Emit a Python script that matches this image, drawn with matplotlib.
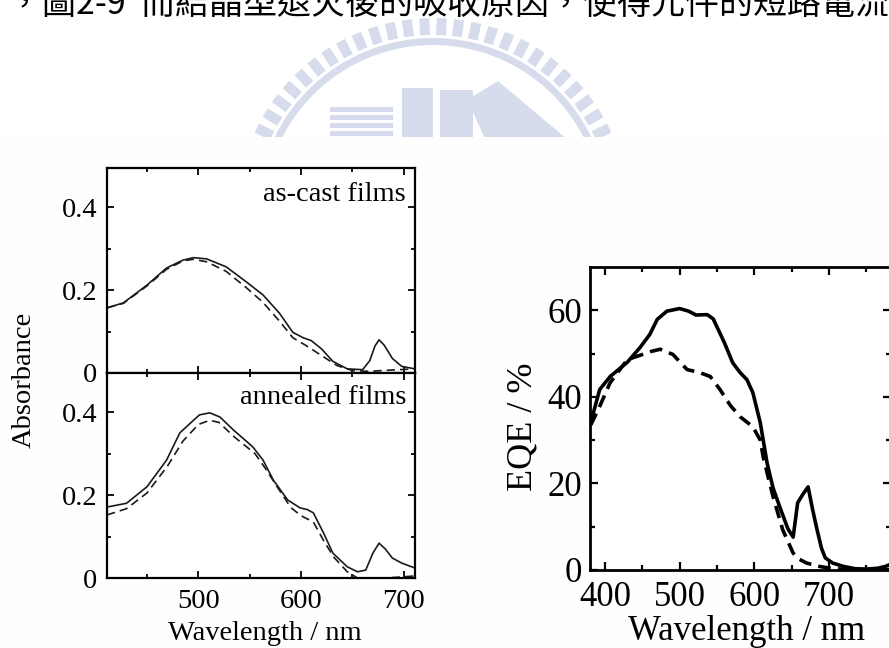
import numpy as np
import matplotlib.pyplot as plt
from matplotlib.patches import Polygon, Rectangle

# ---- absorbance spectra (as-cast films) ----
asc_wl = [411, 427, 450, 469, 485, 495, 508, 527, 547, 563, 579, 592, 602, 610,
          620, 631, 645, 660, 667, 672, 676, 681, 689, 698, 711]
asc_solid = [0.157, 0.169, 0.212, 0.253, 0.272, 0.278, 0.275, 0.256, 0.219, 0.188,
             0.144, 0.098, 0.085, 0.078, 0.058, 0.028, 0.010, 0.008, 0.030, 0.065,
             0.080, 0.067, 0.035, 0.016, 0.010]
asc_dash_wl = [411, 427, 450, 469, 485, 495, 508, 527, 547, 563, 579, 592, 605,
               620, 635, 650, 665, 680, 695, 711]
asc_dash = [0.157, 0.168, 0.210, 0.250, 0.270, 0.274, 0.268, 0.245, 0.205, 0.170,
            0.125, 0.085, 0.066, 0.042, 0.018, 0.006, 0.004, 0.006, 0.008, 0.010]

# ---- absorbance spectra (annealed films) ----
ann_wl = [411, 430, 450, 469, 482, 501, 511, 521, 534, 553, 563, 573, 587, 599,
          606, 612, 622, 631, 645, 655, 663, 670, 676, 682, 689, 698, 711]
ann_solid = [0.171, 0.180, 0.220, 0.284, 0.350, 0.393, 0.398, 0.388, 0.357, 0.316,
             0.284, 0.236, 0.188, 0.169, 0.165, 0.157, 0.108, 0.060, 0.027, 0.015,
             0.019, 0.060, 0.084, 0.070, 0.048, 0.036, 0.024]
ann_dash_wl = [411, 430, 450, 470, 485, 500, 511, 520, 535, 555, 565, 578, 590,
               600, 612, 622, 632, 645, 655, 665, 680, 695, 711]
ann_dash = [0.152, 0.167, 0.205, 0.270, 0.330, 0.370, 0.380, 0.375, 0.340, 0.300,
            0.265, 0.215, 0.170, 0.150, 0.135, 0.090, 0.050, 0.015, 0.000, -0.003,
            0.000, 0.002, 0.005]

# ---- EQE spectra ----
eqe_wl = [381, 384, 393, 407, 430, 447, 460, 470, 483, 500, 512, 522, 537, 545,
          560, 571, 581, 590, 598, 608, 617, 625, 634, 645, 652, 658, 665, 672,
          678, 684, 690, 695, 705, 720, 735, 750, 765, 775, 785]
eqe_solid = [34, 36, 41.7, 44.7, 48, 51.4, 54.4, 57.9, 59.8, 60.4, 59.8, 58.9, 59,
             58, 52.5, 47.9, 45.6, 44, 41, 34, 24.8, 19, 14.6, 9.5, 7.6, 15.5, 17.5,
             19.2, 14, 9.3, 5, 2.8, 1.6, 0.8, 0.3, 0.2, 0.4, 0.8, 1.5]
eqe_dash_wl = [381, 393, 407, 430, 447, 462, 474, 491, 510, 527, 541, 554, 568,
               581, 598, 608, 612, 625, 638, 652, 660, 670, 688, 705, 720, 740,
               760, 785]
eqe_dash = [33.5, 37.8, 43.3, 48.6, 49.6, 50.5, 51, 49.8, 46.3, 45.6, 44.7, 41.7,
            38, 35.4, 33.1, 30, 26, 17, 9.3, 3.9, 2.5, 1.6, 0.8, 0.3, 0.2, 0.1,
            0.1, 0.1]

W, H = 889, 648
SERIF = 'Liberation Serif'
WM = '#d6dcec'

fig = plt.figure(figsize=(W / 100, H / 100), dpi=100)


def box(x0, y0, x1, y1):
    return [x0 / W, 1 - y1 / H, (x1 - x0) / W, (y1 - y0) / H]


# ---- background: page header line and faded logo ----
bg = fig.add_axes([0, 0, 1, 1], zorder=-1)
bg.set_xlim(0, W)
bg.set_ylim(H, 0)
bg.axis('off')

cx, cy = 433, 214
for th in np.radians(np.linspace(154, 26, 26)):
    u = np.array([np.cos(th), -np.sin(th)])
    p = np.array([np.sin(th), np.cos(th)]) * 5
    c = np.array([cx, cy])
    pts = [c + 179 * u - p, c + 196 * u - p, c + 196 * u + p, c + 179 * u + p]
    bg.add_patch(Polygon(pts, closed=True, color=WM, lw=0))
ang = np.radians(np.linspace(160, 20, 80))
outer = np.c_[cx + 176 * np.cos(ang), cy - 176 * np.sin(ang)]
inner = np.c_[cx + 169 * np.cos(ang), cy - 169 * np.sin(ang)][::-1]
bg.add_patch(Polygon(np.vstack([outer, inner]), closed=True, color=WM, lw=0))
for i in range(4):
    bg.add_patch(Rectangle((330, 107 + 8 * i), 63, 5, color=WM, lw=0))
bg.add_patch(Rectangle((402, 88), 31, 60, color=WM, lw=0))
bg.add_patch(Rectangle((440, 90), 33, 60, color=WM, lw=0))
bg.add_patch(Polygon([(470, 98), (498, 81), (580, 150), (490, 150), (473, 112)],
                     closed=True, color=WM, lw=0))
bg.add_patch(Rectangle((0, 137), W, H - 137, color='#fefefe', lw=0, zorder=5))

fig.text(8 / W, 1 - 14 / H, '，圖2-9  而結晶型退火後的吸收原因，使得元件的短路電流',
         fontsize=24.5, va='baseline', ha='left', color='black',
         family=['Noto Sans CJK TC', 'DejaVu Sans'])


def style(ax, fs, lw, maj, mino, xpad, ypad):
    for s in ax.spines.values():
        s.set_linewidth(lw)
    ax.tick_params(which='both', direction='in', top=True, right=True,
                   labelsize=fs, width=lw * 0.8)
    ax.tick_params(which='major', length=maj)
    ax.tick_params(which='minor', length=mino)
    ax.tick_params(axis='x', pad=xpad)
    ax.tick_params(axis='y', pad=ypad)
    for t in ax.get_xticklabels() + ax.get_yticklabels():
        t.set_fontfamily(SERIF)


# ---- absorbance panels ----
ax1 = fig.add_axes(box(107, 168, 415, 373))
ax2 = fig.add_axes(box(107, 373, 415, 578))
for ax, (wl_s, s, wl_d, d) in zip(
        [ax1, ax2],
        [(asc_wl, asc_solid, asc_dash_wl, asc_dash),
         (ann_wl, ann_solid, ann_dash_wl, ann_dash)]):
    ax.plot(wl_s, s, color='#1a1a1a', lw=1.2)
    ax.plot(wl_d, d, color='#1a1a1a', lw=1.2, dashes=(5, 3))
    ax.set_xlim(411, 711)
    ax.set_ylim(0, 0.494)
    ax.set_xticks([500, 600, 700])
    ax.set_xticks([450, 550, 650], minor=True)
    ax.set_yticks([0, 0.2, 0.4])
    ax.set_yticklabels(['0', '0.2', '0.4'])
    ax.set_yticks([0.1, 0.3], minor=True)
    style(ax, 20.5, 1.6, 5, 3, 8, 7)
ax1.tick_params(labelbottom=False)

ax1.text(0.968, 0.84, 'as-cast films', transform=ax1.transAxes, ha='right',
         va='baseline', fontsize=20.5, family=SERIF)
ax2.text(0.971, 0.85, 'annealed films', transform=ax2.transAxes, ha='right',
         va='baseline', fontsize=20.5, family=SERIF)
fig.text(24 / W, 1 - 380 / H, 'Absorbance', rotation=90, ha='center',
         va='center', fontsize=20.5, family=SERIF)
fig.text(265 / W, 1 - 640 / H, 'Wavelength / nm', ha='center', va='baseline',
         fontsize=20.5, family=SERIF)

# ---- EQE panel ----
ax3 = fig.add_axes(box(590, 267, 891, 570))
ax3.plot(eqe_wl, eqe_solid, color='black', lw=2.6)
ax3.plot(eqe_dash_wl, eqe_dash, color='black', lw=2.6, dashes=(3.5, 2))
ax3.set_xlim(380, 783)
ax3.set_ylim(0, 70)
ax3.set_xticks([400, 500, 600, 700])
ax3.set_xticks([450, 550, 650, 750], minor=True)
ax3.set_yticks([0, 20, 40, 60])
ax3.set_yticks([10, 30, 50], minor=True)
style(ax3, 25, 2.0, 5.5, 3.5, 8, 5.5)
fig.text(523 / W, 1 - 427 / H, 'EQE / %', rotation=90, ha='center',
         va='center', fontsize=26, family=SERIF)
fig.text(746 / W, 1 - 640 / H, 'Wavelength / nm', ha='center', va='baseline',
         fontsize=25, family=SERIF)

fig.savefig('out.png', dpi=100)
